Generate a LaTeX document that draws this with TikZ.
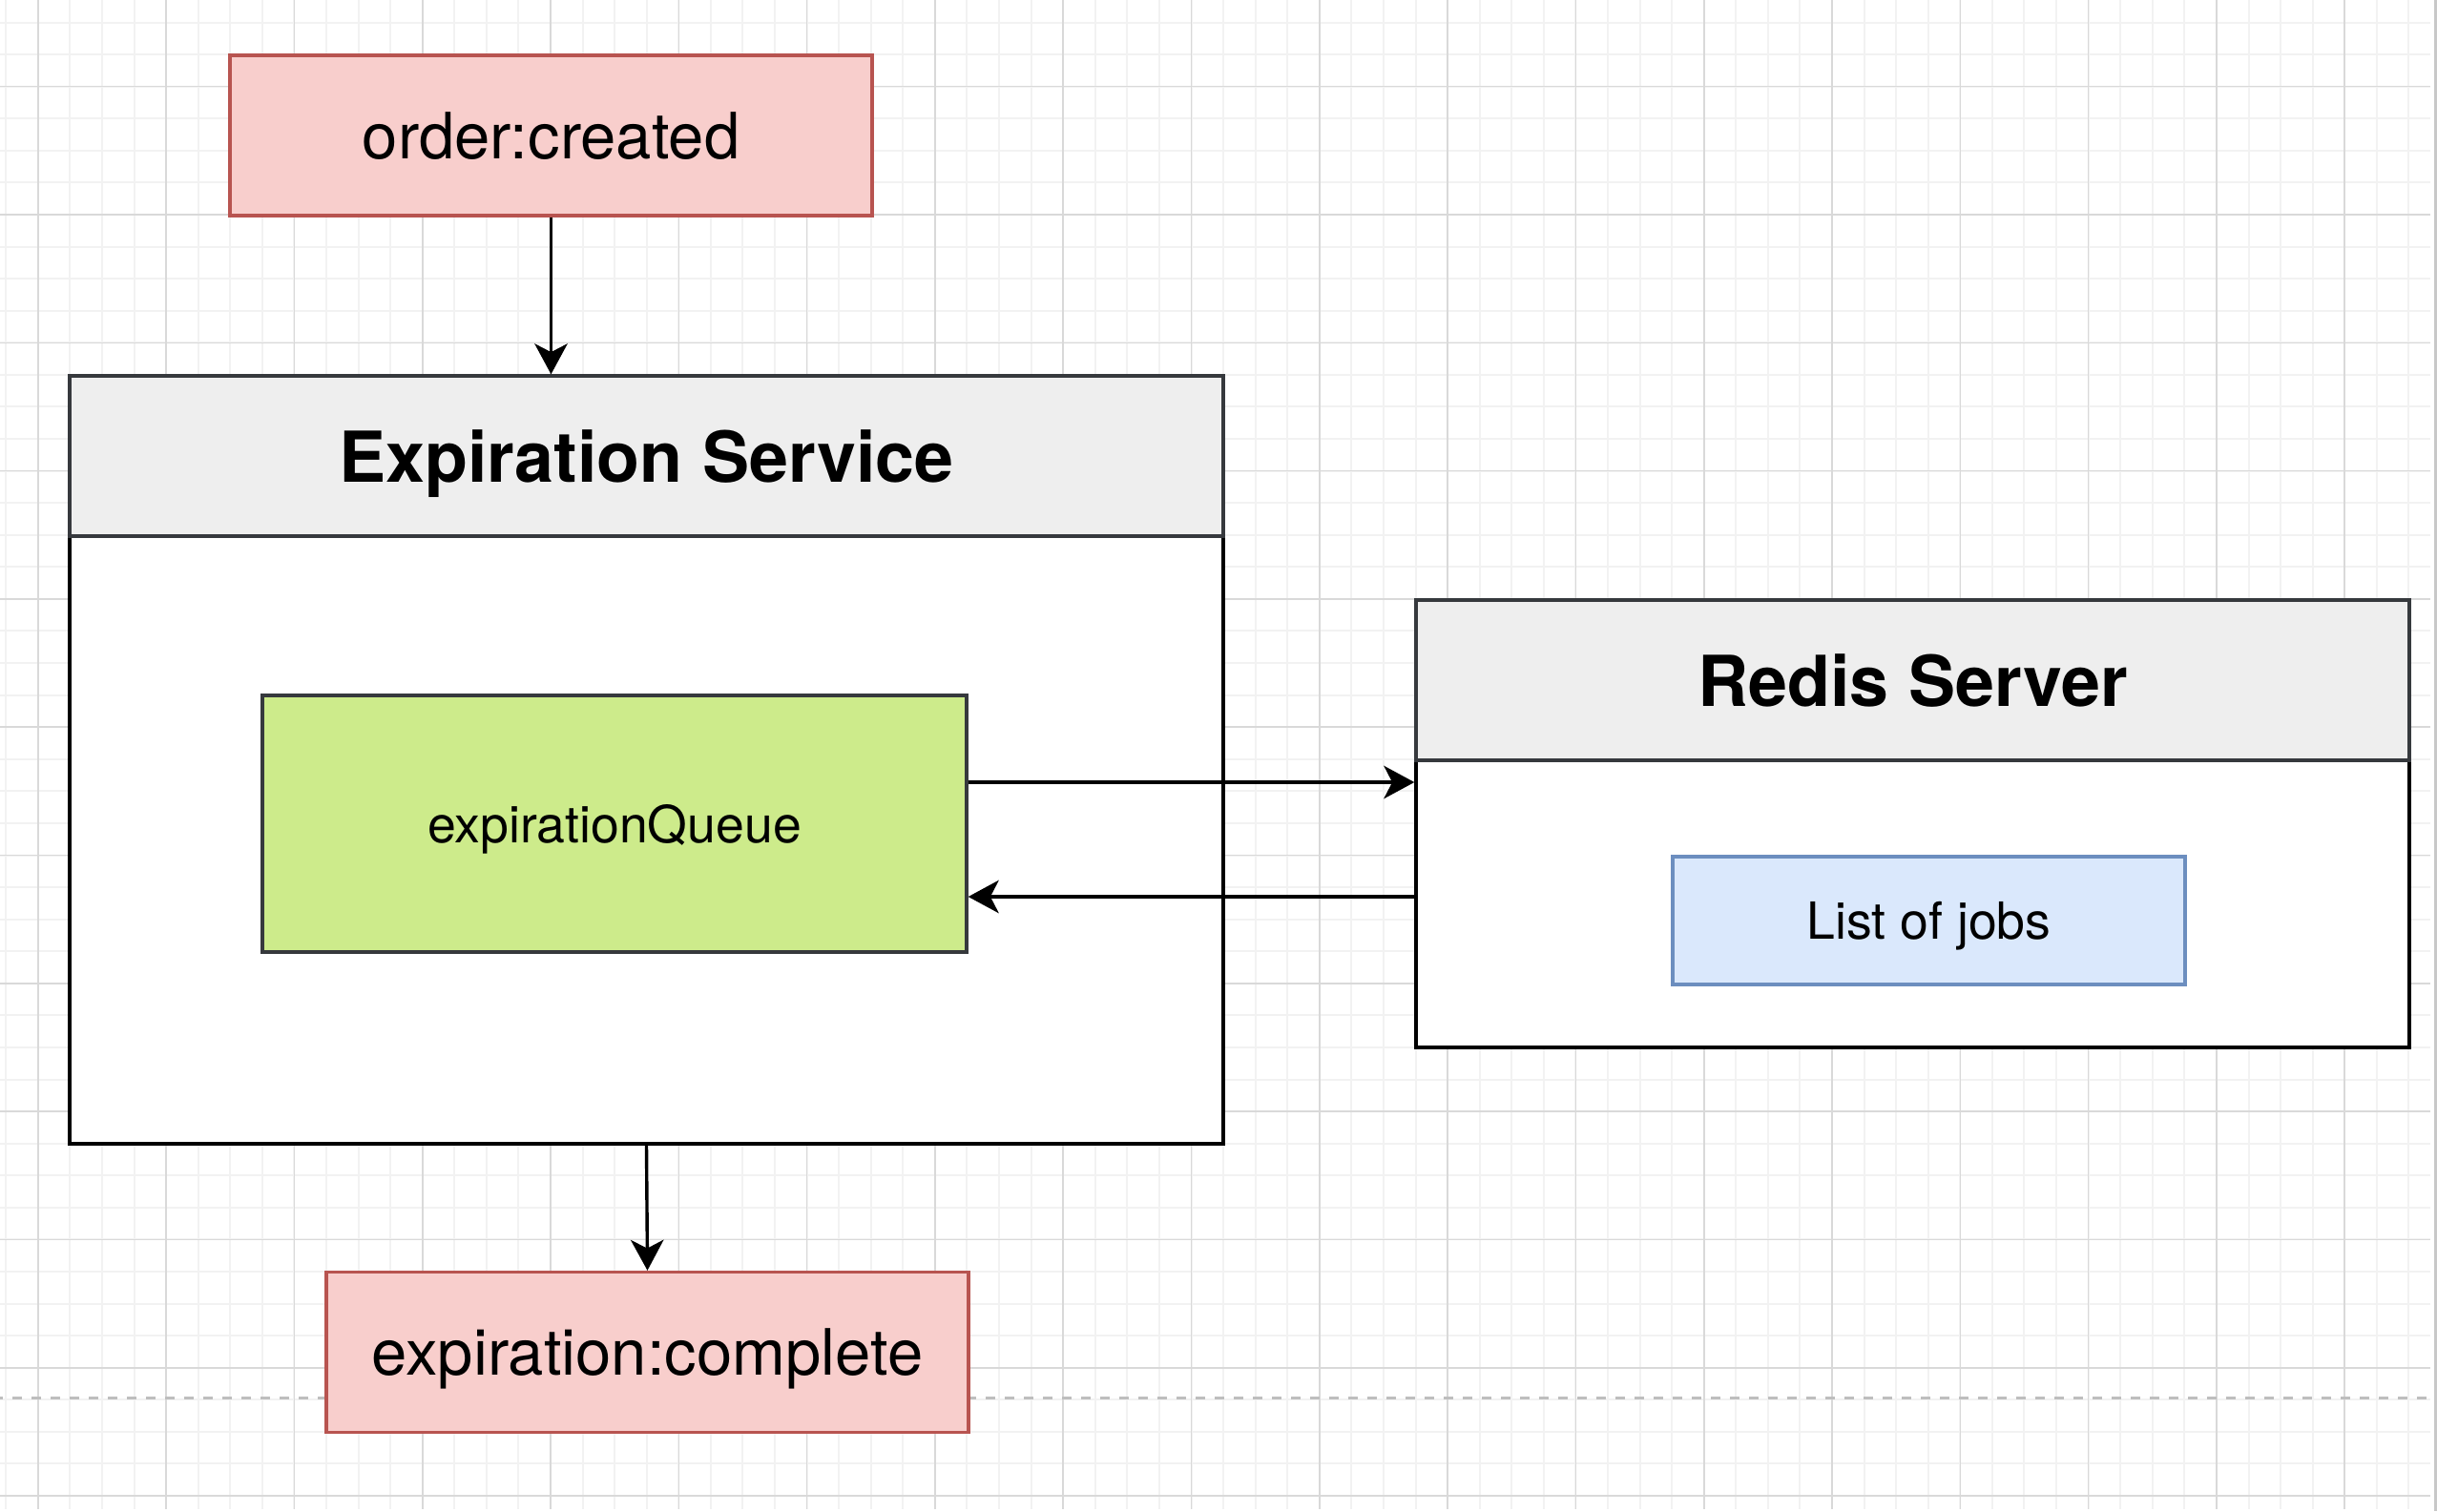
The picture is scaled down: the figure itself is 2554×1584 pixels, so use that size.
\documentclass[tikz,border=0pt]{standalone}
\usepackage{fontspec}
\setmainfont{TeX Gyre Heros}
\usetikzlibrary{arrows.meta}
\definecolor{redfill}{HTML}{F8CECC}
\definecolor{redline}{HTML}{B85450}
\definecolor{greenfill}{HTML}{CDEB8B}
\definecolor{darkline}{HTML}{36393D}
\definecolor{bluefill}{HTML}{DAE8FC}
\definecolor{blueline}{HTML}{6C8EBF}
\definecolor{headfill}{HTML}{EEEEEE}
\definecolor{gridminor}{HTML}{F2F2F2}
\definecolor{gridmajor}{HTML}{D9D9D9}
\definecolor{pagebreak}{HTML}{BEBEBE}
\definecolor{edgebar}{HTML}{C8C8C8}
\begin{document}
\begin{tikzpicture}[x=0.25pt,y=-0.25pt,
  box/.style={draw, rectangle, line width=0.85pt, inner sep=0pt, text depth=0pt},
  eventbox/.style={box, draw=redline, fill=redfill, minimum width=168.25pt, minimum height=42pt,
    font=\fontsize{16.75}{20}\selectfont},
  outerbox/.style={box, draw=black, fill=white},
  headbox/.style={box, draw=darkline, fill=headfill, minimum height=42pt,
    font=\fontsize{18.4}{22}\selectfont\bfseries},
  innertext/.style={font=\fontsize{13.4}{16}\selectfont},
  arr/.style={draw=black, line width=0.85pt, -{Stealth[length=8pt, width=8.6pt, inset=2.2pt, fill=black]}},
  minorline/.style={draw=gridminor, line width=0.5pt},
  majorline/.style={draw=gridmajor, line width=0.4pt}
]
\useasboundingbox (0,0) rectangle (2554,1584);
\fill[white] (0,0) rectangle (2554,1584);
% grid
\foreach \i in {-1,...,74} \draw[minorline] ({39.8+33.575*\i},0) -- ({39.8+33.575*\i},1582);
\foreach \j in {-2,...,44} \draw[minorline] (0,{90.7+33.575*\j}) -- (2547,{90.7+33.575*\j});
\foreach \i in {0,...,18} \draw[majorline] ({39.8+134.3*\i},0) -- ({39.8+134.3*\i},1582);
\foreach \j in {0,...,11} \draw[majorline] (0,{90.7+134.3*\j}) -- (2547,{90.7+134.3*\j});
\fill[edgebar] (2551,0) rectangle (2554,1584);
% page break line
\draw[pagebreak, line width=0.75pt, dash pattern=on 2.5pt off 2.5pt, dash phase=1.67pt] (0,1465) -- (2547,1465);

% nodes
\node[eventbox] (order) at (577.5,142) {order:created};
\node[outerbox, minimum width=302.25pt, minimum height=201.25pt] (es) at (677.5,796.5) {};
\node[headbox, minimum width=302.25pt] (esh) at (677.5,478) {Expiration Service};
\node[box, draw=darkline, fill=greenfill, minimum width=184.5pt, minimum height=67.25pt, innertext] (queue) at (644,863.5) {expirationQueue};
\node[outerbox, minimum width=260.25pt, minimum height=117.25pt] (redis) at (2004.5,863.5) {};
\node[headbox, minimum width=260.25pt] (redish) at (2004.5,713) {Redis Server};
\node[box, draw=blueline, fill=bluefill, minimum width=134.25pt, minimum height=33.5pt, innertext] (jobs) at (2021.5,965) {List of jobs};
\node[eventbox] (expc) at (678.5,1417.5) {expiration:complete};

% connectors
\draw[arr] (order.south) -- (order.south |- es.north);
\draw[arr] (es.south) -- (expc.north);
\draw[arr] (queue.east) ++(0,-43.5) coordinate (q1) -- (q1 -| redis.west);
\draw[arr] (redis.west) ++(0,76.5) coordinate (r1) -- (r1 -| queue.east);
\end{tikzpicture}
\end{document}
